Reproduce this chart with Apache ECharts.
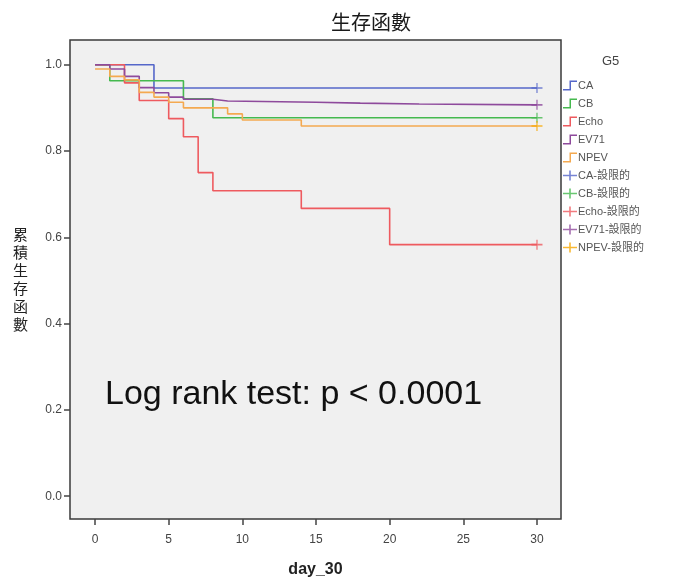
<!DOCTYPE html>
<html>
<head>
<meta charset="utf-8">
<script src="https://cdn.jsdelivr.net/npm/echarts@6/dist/echarts.min.js"></script>
<style>
    html, body { margin: 0; padding: 0; background: #fff; }
    #main { width: 678px; height: 583px; }
</style>
</head>
<body>
<div id="main"></div>
<script type="text/javascript">
    // 各組 Kaplan-Meier 資料 (天數, 累積生存)
    var caDays = [0, 4, 30];
    var caSurv = [1.0, 0.946, 0.946];
    var cbDays = [0, 1, 6, 8, 30];
    var cbSurv = [1.0, 0.963, 0.921, 0.877, 0.877];
    var echoDays = [0, 2, 3, 5, 6, 7, 8, 14, 20, 30];
    var echoSurv = [1.0, 0.958, 0.917, 0.875, 0.833, 0.75, 0.708, 0.667, 0.583, 0.583];
    var ev71Days = [0, 1, 2, 3, 4, 5, 6, 8, 9, 15, 18, 22, 30];
    var ev71Surv = [1.0, 0.99, 0.973, 0.947, 0.935, 0.925, 0.92, 0.916, 0.913, 0.911, 0.909, 0.907, 0.907];
    var npevDays = [0, 1, 2, 3, 4, 5, 6, 9, 10, 14, 30];
    var npevSurv = [0.99, 0.973, 0.965, 0.936, 0.925, 0.913, 0.9, 0.886, 0.872, 0.858, 0.858];

    var groupNames = ['CA', 'CB', 'Echo', 'EV71', 'NPEV'];
    var groupColors = ['#5567c9', '#45b94f', '#ee5a5f', '#8e4a9c', '#f4a950'];
    var censorColors = ['#5567c9', '#45b94f', '#ee5a5f', '#8e4a9c', '#f7a800'];
    var censorDay = 30;

    var xTicks = [0, 5, 10, 15, 20, 25, 30];
    var yTicks = [0, 0.2, 0.4, 0.6, 0.8, 1.0];

    var allDays = [caDays, cbDays, echoDays, ev71Days, npevDays];
    var allSurv = [caSurv, cbSurv, echoSurv, ev71Surv, npevSurv];

    var stepIcon = 'path://M0,8.5H6.5V0H14V1.5H8V10H0Z';
    var plusIcon = 'path://M6.2,0H7.8V4.2H14V5.8H7.8V10H6.2V5.8H0V4.2H6.2Z';

    var series = [];
    var legendData = [];
    groupNames.forEach(function (name, i) {
        var pts = allDays[i].map(function (d, k) { return [d, allSurv[i][k]]; });
        series.push({
            name: name,
            type: 'line',
            step: 'end',
            showSymbol: false,
            color: groupColors[i],
            lineStyle: {width: 1.6, color: groupColors[i]},
            data: pts,
            z: 2
        });
        legendData.push({name: name, icon: stepIcon});
    });
    groupNames.forEach(function (name, i) {
        var last = allSurv[i][allSurv[i].length - 1];
        series.push({
            name: name + '-設限的',
            type: 'scatter',
            symbol: plusIcon,
            symbolSize: [11, 10],
            color: censorColors[i],
            data: [[censorDay, last]],
            z: 3
        });
        legendData.push({name: name + '-設限的', icon: plusIcon});
    });

    var chart = echarts.init(document.getElementById('main'));
    chart.setOption({
        animation: false,
        backgroundColor: '#ffffff',
        textStyle: {fontFamily: 'Liberation Sans, Arial, Noto Sans CJK TC'},
        grid: {
            left: 70, right: 117, top: 40, bottom: 59,
            show: true,
            backgroundColor: '#f0f0f0',
            borderColor: '#3a3a3a',
            borderWidth: 1.5
        },
        legend: {
            orient: 'vertical',
            left: 563,
            top: 80,
            padding: 0,
            itemWidth: 14,
            itemHeight: 10,
            itemGap: 7,
            data: legendData,
            textStyle: {fontSize: 11, color: '#555', padding: [0, 0, 0, -4]}
        },
        xAxis: {
            type: 'value',
            min: -1.7,
            max: 31.63,
            name: 'day_30',
            nameLocation: 'middle',
            nameGap: 43,
            nameTextStyle: {fontSize: 16, fontWeight: 'bold', color: '#222'},
            axisLine: {show: false, onZero: false},
            axisTick: {show: true, length: 6, customValues: xTicks, lineStyle: {color: '#444', width: 1.5}},
            axisLabel: {customValues: xTicks, color: '#444', fontSize: 12, margin: 15},
            splitLine: {show: false}
        },
        yAxis: {
            type: 'value',
            min: -0.0528,
            max: 1.0573,
            name: '累\n積\n生\n存\n函\n數',
            nameLocation: 'middle',
            nameRotate: 0,
            nameGap: 42,
            nameTextStyle: {fontSize: 15, lineHeight: 18, color: '#222', fontFamily: 'Noto Sans CJK TC'},
            axisLine: {show: false, onZero: false},
            axisTick: {show: true, length: 6, customValues: yTicks, lineStyle: {color: '#444', width: 1.5}},
            axisLabel: {
                customValues: yTicks, color: '#444', fontSize: 12, margin: 8,
                formatter: function (v) { return v.toFixed(1); }
            },
            splitLine: {show: false}
        },
        graphic: [
            {
                type: 'text', left: 331, top: 12,
                style: {text: '生存函數', fontSize: 20, fill: '#1a1a1a', fontFamily: 'Noto Sans CJK TC'}
            },
            {
                type: 'text', left: 602, top: 55,
                style: {text: 'G5', fontSize: 13, fill: '#444', fontFamily: 'Liberation Sans'}
            },
            {
                type: 'text', x: 105, y: 395,
                style: {
                    text: 'Log rank test: p < 0.0001', fontSize: 34, fill: '#111',
                    fontFamily: 'Liberation Sans', verticalAlign: 'middle', align: 'left'
                },
                z: 10
            }
        ],
        series: series
    });
</script>
</body>
</html>
